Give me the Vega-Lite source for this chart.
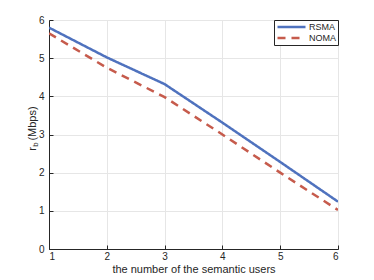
{
  "$schema": "https://vega.github.io/schema/vega-lite/v6.json",
  "width": 289,
  "height": 229,
  "autosize": "none",
  "padding": {"left": 49, "top": 20, "right": 36, "bottom": 31},
  "background": "white",
  "config": {
    "font": "Liberation Sans",
    "view": {"stroke": "#262626", "strokeWidth": 1},
    "axis": {"labelFont": "Liberation Sans", "titleFont": "Liberation Sans", "labelColor": "#262626", "titleColor": "#262626", "titleFontWeight": "normal", "labelFontSize": 10, "titleFontSize": 11, "domainColor": "#262626", "tickColor": "#262626", "gridColor": "#e6e6e6", "gridOpacity": 1}
  },
  "data": {"values": [
    {"users": 1, "rate": 5.8, "series": "RSMA"},
    {"users": 2, "rate": 5.02, "series": "RSMA"},
    {"users": 3, "rate": 4.32, "series": "RSMA"},
    {"users": 4, "rate": 3.31, "series": "RSMA"},
    {"users": 5, "rate": 2.28, "series": "RSMA"},
    {"users": 6, "rate": 1.24, "series": "RSMA"},
    {"users": 1, "rate": 5.65, "series": "NOMA"},
    {"users": 2, "rate": 4.75, "series": "NOMA"},
    {"users": 3, "rate": 3.98, "series": "NOMA"},
    {"users": 4, "rate": 3.0, "series": "NOMA"},
    {"users": 5, "rate": 2.0, "series": "NOMA"},
    {"users": 6, "rate": 1.02, "series": "NOMA"}
  ]},
  "layer": [
    {
      "mark": {"type": "line", "strokeWidth": 2.5, "clip": true},
      "encoding": {
        "x": {"field": "users", "type": "quantitative", "scale": {"domain": [1, 6], "nice": false}, "axis": {"title": "the number of the semantic users", "values": [1,2,3,4,5,6], "format": "d", "tickSize": -4, "labelPadding": 6, "titlePadding": 2, "grid": true}},
        "y": {"field": "rate", "type": "quantitative", "scale": {"domain": [0, 6], "nice": false}, "axis": {"title": "(Mbps)", "values": [0,1,2,3,4,5,6], "format": "d", "tickSize": -4, "labelPadding": 9, "grid": true, "titleX": -17, "titleY": 103, "titleAlign": "center", "titleBaseline": "middle"}},
        "color": {"field": "series", "type": "nominal", "scale": {"domain": ["RSMA", "NOMA"], "range": ["#4f72be", "#c65b4c"]}, "legend": {"title": null, "orient": "top-right", "offset": 0, "symbolType": "M-4,0H4", "symbolSize": 49, "symbolStrokeWidth": 2.5, "symbolFillColor": "transparent", "symbolOffset": 10.5, "labelFontSize": 9, "labelColor": "#262626", "strokeColor": "#262626", "fillColor": "white", "padding": 2, "rowPadding": 1, "labelOffset": 12.5}},
        "strokeDash": {"field": "series", "type": "nominal", "scale": {"domain": ["RSMA", "NOMA"], "range": [[1, 0], [8, 6]]}, "legend": {"title": null, "orient": "top-right", "offset": 0}}
      }
    },
    {
      "mark": {"type": "line", "opacity": 0},
      "encoding": {
        "x": {"field": "users", "type": "quantitative"},
        "y": {"field": "rate", "type": "quantitative", "axis": {"orient": "left", "title": "r", "labels": false, "ticks": false, "domain": false, "grid": false, "offset": 0, "titleX": -17, "titleY": 128.5, "titleAlign": "center", "titleBaseline": "middle"}}
      }
    },
    {
      "mark": {"type": "line", "opacity": 0},
      "encoding": {
        "x": {"field": "users", "type": "quantitative"},
        "y": {"field": "rate", "type": "quantitative", "axis": {"orient": "left", "title": "b", "titleFontSize": 8, "labels": false, "ticks": false, "domain": false, "grid": false, "offset": 0, "titleX": -14, "titleY": 124, "titleAlign": "center", "titleBaseline": "middle"}}
      }
    }
  ],
  "resolve": {"axis": {"y": "independent"}}
}
